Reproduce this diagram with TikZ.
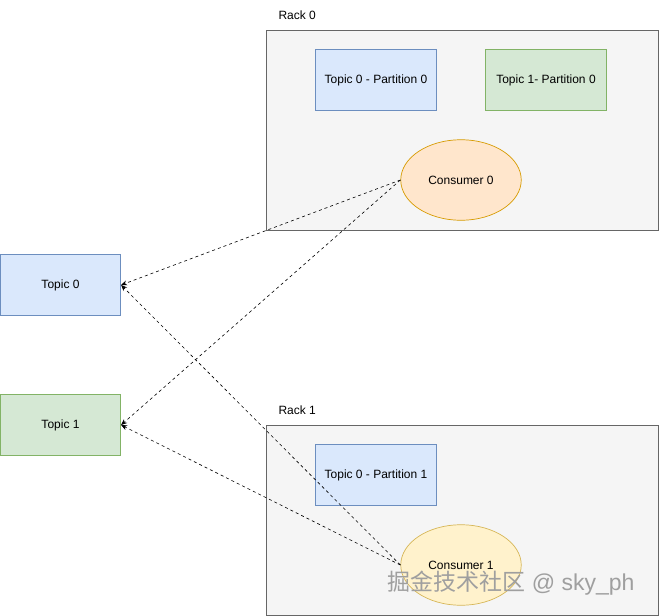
\documentclass[tikz,border=0pt]{standalone}
\usepackage{fontspec}
\setmainfont{Liberation Sans}
\newfontfamily\cjk{Noto Sans CJK SC}
\usetikzlibrary{arrows.meta,shapes.geometric}
\definecolor{blueFill}{HTML}{DAE8FC}
\definecolor{blueLine}{HTML}{6C8EBF}
\definecolor{greenFill}{HTML}{D5E8D4}
\definecolor{greenLine}{HTML}{82B366}
\definecolor{orangeFill}{HTML}{FFE6CC}
\definecolor{orangeLine}{HTML}{D79B00}
\definecolor{yellowFill}{HTML}{FFF2CC}
\definecolor{yellowLine}{HTML}{D6B656}
\definecolor{rackFill}{HTML}{F5F5F5}
\definecolor{rackLine}{HTML}{666666}
\tikzset{rack/.style={draw=rackLine,fill=rackFill,line width=0.8pt}}
\tikzset{topicbox/.style={rectangle,minimum width=120.5pt,minimum height=60.5pt,inner sep=0pt,line width=0.7pt}}
\tikzset{consumer/.style={ellipse,minimum width=120.5pt,minimum height=80.5pt,inner sep=0pt,line width=0.7pt}}
\tikzset{fetch/.style={dashed,line width=0.6pt,-{Stealth[length=6pt,width=5pt]}}}

\begin{document}
\begin{tikzpicture}[x=1pt,y=-1pt,font=\fontsize{12}{14}\selectfont]
	\useasboundingbox (0,0) rectangle (659,616);
	% draw the racks
	\draw[rack] (266,30) rectangle (658,230);
	\draw[rack] (266,425) rectangle (658,615);
	\node[anchor=west] (r0) at (275,15) {Rack 0};
	\node[anchor=west] (r1) at (275,410) {Rack 1};
	% draw the partitions
	\node[topicbox,draw=blueLine,fill=blueFill] (p00) at (376,80) {Topic 0 - Partition 0};
	\node[topicbox,draw=greenLine,fill=greenFill] (p10) at (546,80) {Topic 1- Partition 0};
	\node[topicbox,draw=blueLine,fill=blueFill] (p01) at (376,475) {Topic 0 - Partition 1};
	% draw the consumers
	\node[consumer,draw=orangeLine,fill=orangeFill] (c0) at (461,180) {Consumer 0};
	\node[consumer,draw=yellowLine,fill=yellowFill] (c1) at (461,565) {Consumer 1};
	% draw the topics
	\node[topicbox,draw=blueLine,fill=blueFill] (t0) at (60.5,285) {Topic 0};
	\node[topicbox,draw=greenLine,fill=greenFill] (t1) at (60.5,425) {Topic 1};
	% draw the fetch arrows
	\draw[fetch] (c0.west) -- (t0.east);
	\draw[fetch] (c0.west) -- (t1.east);
	\draw[fetch] (c1.west) -- (t0.east);
	\draw[fetch] (c1.west) -- (t1.east);
	% watermark
	\node[anchor=west,text=gray!75,font=\fontsize{23}{26}\selectfont] (wm) at (384,583) {{\cjk 掘金技术社区} @ sky\_ph};
\end{tikzpicture}
\end{document}
